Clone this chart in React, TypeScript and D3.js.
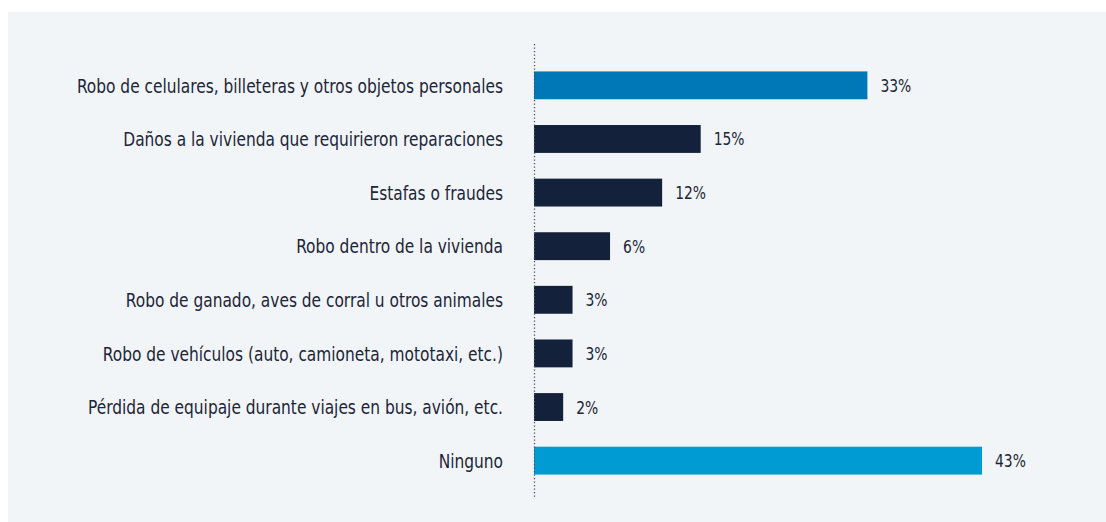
import React from "react";
import * as d3 from "d3";

const categories = [
  "Robo de celulares, billeteras y otros objetos personales",
  "Daños a la vivienda que requirieron reparaciones",
  "Estafas o fraudes",
  "Robo dentro de la vivienda",
  "Robo de ganado, aves de corral u otros animales",
  "Robo de vehículos (auto, camioneta, mototaxi, etc.)",
  "Pérdida de equipaje durante viajes en bus, avión, etc.",
  "Ninguno",
];
// bar lengths
const values = [32, 16, 12.3, 7.3, 3.7, 3.7, 2.8, 43];
// value labels as printed
const valueLabels = ["33%", "15%", "12%", "6%", "3%", "3%", "2%", "43%"];
const barColors = ["#0077b6", "#13213a", "#13213a", "#13213a", "#13213a", "#13213a", "#13213a", "#009bd2"];

const W = 1106;
const H = 522;
const FONT = "'DejaVu Sans Condensed', 'Liberation Sans Narrow', Roboto, sans-serif";
const SX = 0.857; // horizontal squeeze to mimic the condensed face

export default function App() {
  const x = d3.scaleLinear().domain([0, 43]).range([534, 982]);
  const y = d3
    .scaleBand<string>()
    .domain(categories)
    .range([43, 503])
    .paddingInner(0.48)
    .paddingOuter(0.53);

  return (
    <svg
      width={W}
      height={H}
      style={{ position: "absolute", left: 0, top: 0, display: "block" }}
      fontFamily={FONT}
    >
      <rect x={8} y={12} width={W - 8} height={H - 12} fill="#f2f5f7" />
      {categories.map((c, i) => {
        const yy = y(c)!;
        const bw = y.bandwidth();
        const cy = yy + bw / 2;
        return (
          <g key={c}>
            <rect x={x(0)} y={yy} width={x(values[i]) - x(0)} height={bw} fill={barColors[i]} />
            <text
              transform={`translate(${x(0) - 31},${cy}) scale(${SX},1)`}
              dy="0.36em"
              textAnchor="end"
              fontSize={20}
              fill="#1c2538"
            >
              {c}
            </text>
            <text
              transform={`translate(${x(values[i]) + 13},${cy}) scale(${SX},1)`}
              dy="0.36em"
              fontSize={18}
              fill="#1c2538"
            >
              {valueLabels[i]}
            </text>
          </g>
        );
      })}
      <line
        x1={x(0) + 0.5}
        x2={x(0) + 0.5}
        y1={44}
        y2={499}
        stroke="#4a5262"
        strokeWidth={1.3}
        strokeDasharray="1.3 2.2"
      />
    </svg>
  );
}
